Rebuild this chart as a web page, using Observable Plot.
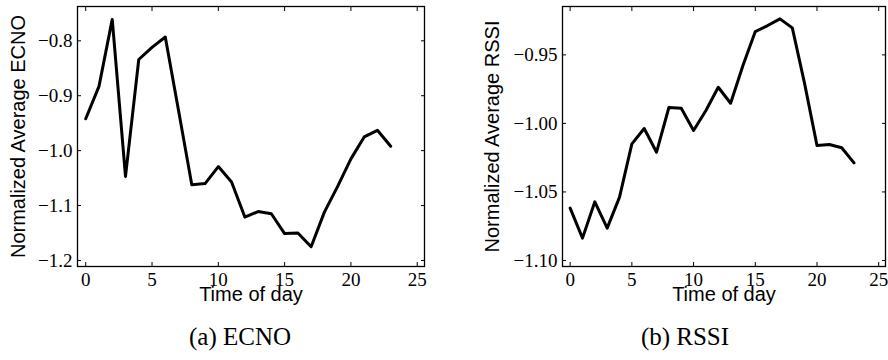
<!DOCTYPE html>
<html>
<head>
<meta charset="utf-8">
<script src="https://cdn.jsdelivr.net/npm/d3@7"></script>
<script src="https://cdn.jsdelivr.net/npm/@observablehq/plot@0.6"></script>
<style>
  html, body { margin: 0; padding: 0; background: #fff; }
  #wrap { position: relative; width: 888px; height: 360px; }
  .panel { position: absolute; top: 0; }
  .cap { position: absolute; top: 323px; font-family: "Liberation Serif", serif; font-size: 25px; color: #000; text-align: center; width: 300px; }
</style>
</head>
<body>
<div id="wrap">
  <div class="panel" id="pa" style="left:0px"></div>
  <div class="panel" id="pb" style="left:444px"></div>
  <div class="cap" style="left:90px">(a) ECNO</div>
  <div class="cap" style="left:535px">(b) RSSI</div>
</div>
<script>
const hours = d3.range(0, 24);
const ecno = [-0.942, -0.883, -0.761, -1.047, -0.834, -0.812, -0.793, -0.927, -1.062, -1.060,
              -1.029, -1.057, -1.121, -1.111, -1.115, -1.151, -1.150, -1.175, -1.112, -1.065,
              -1.015, -0.975, -0.963, -0.992];
const rssi = [-1.0618, -1.0837, -1.0572, -1.0764, -1.0538, -1.0149, -1.0037, -1.0210, -0.9884, -0.9889,
              -1.0052, -0.9906, -0.9736, -0.9853, -0.9578, -0.9330, -0.9286, -0.9237, -0.9303, -0.9712,
              -1.0161, -1.0154, -1.0178, -1.0288];
const xTicks = [0, 5, 10, 15, 20, 25];
const ecnoTicks = [-0.8, -0.9, -1.0, -1.1, -1.2];
const rssiTicks = [-0.95, -1.00, -1.05, -1.10];
const xLabel = "Time of day";

function panel({values, yTicks, yFmt, yDomain, yLabel, marginLeft, marginRight, yLabelDx}) {
  const data = hours.map((h, i) => ({h, v: values[i]}));
  const sans = "Liberation Sans, Arial, sans-serif";
  const svg = Plot.plot({
    width: 444, height: 300,
    marginLeft, marginRight, marginTop: 6, marginBottom: 34,
    style: {background: "white", color: "black", overflow: "visible"},
    x: {domain: [-0.62, 25.55]},
    y: {domain: yDomain},
    marks: [
      Plot.line(data, {x: "h", y: "v", stroke: "black", strokeWidth: 3}),
      // tick labels
      Plot.axisX(xTicks, {anchor: "bottom", tickSize: 0, tickPadding: 6, fontSize: 19, label: null}),
      Plot.axisY(yTicks, {anchor: "left", tickSize: 0, tickPadding: 5, fontSize: 19, tickFormat: d3.format(yFmt), label: null}),
      // inward ticks on all four sides
      Plot.axisX(xTicks, {anchor: "bottom", tickSize: -4, tickFormat: () => "", label: null}),
      Plot.axisX(xTicks, {anchor: "top", tickSize: -4, tickFormat: () => "", label: null}),
      Plot.axisY(yTicks, {anchor: "left", tickSize: -4, tickFormat: () => "", label: null}),
      Plot.axisY(yTicks, {anchor: "right", tickSize: -4, tickFormat: () => "", label: null}),
      // axis titles
      Plot.text([xLabel], {frameAnchor: "bottom", dy: 20, fontSize: 20, fontFamily: sans, lineAnchor: "top", textAnchor: "middle", fill: "black"}),
      Plot.text([yLabel], {frameAnchor: "left", dx: yLabelDx, rotate: -90, fontSize: 20, fontFamily: sans, lineAnchor: "middle", textAnchor: "middle", fill: "black"}),
      Plot.frame({stroke: "black", strokeWidth: 1.3})
    ]
  });
  // serif (math-style) tick numbers
  svg.querySelectorAll("text").forEach(t => {
    if (/^[\u2212\-0-9.]+$/.test(t.textContent.trim())) {
      t.setAttribute("font-family", "Liberation Serif");
      t.style.fontFamily = "'Liberation Serif', serif";
      t.style.fontSize = "19px";
    }
  });
  return svg;
}

document.getElementById("pa").append(panel({
  values: ecno, yTicks: ecnoTicks, yFmt: ".1f", yDomain: [-1.211, -0.7375],
  yLabel: "Normalized Average ECNO", marginLeft: 77, marginRight: 20, yLabelDx: -59
}));
document.getElementById("pb").append(panel({
  values: rssi, yTicks: rssiTicks, yFmt: ".2f", yDomain: [-1.1044, -0.9147],
  yLabel: "Normalized Average RSSI", marginLeft: 118, marginRight: 3, yLabelDx: -70
}));
</script>
</body>
</html>
